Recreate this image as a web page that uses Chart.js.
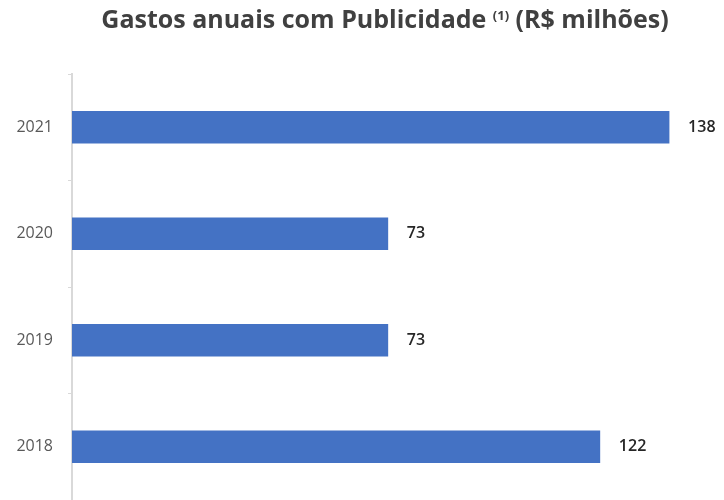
<!DOCTYPE html>
<html>
<head>
<meta charset="utf-8">
<script src="https://cdn.jsdelivr.net/npm/chart.js@4"></script>
<style>
  html, body { margin: 0; padding: 0; background: #fff; overflow: hidden; }
  canvas { display: block; }
</style>
</head>
<body>
<canvas id="chart" width="724" height="500"></canvas>
<script>
// Dados do gráfico
const anos = ["2021", "2020", "2019", "2018"];
const gastos = [138, 73, 73, 122];

const corBarra = "#4472c4";
const corEixo = "#d9d9d9";

// Título com o "(1)" sobrescrito
const tituloPlugin = {
  id: "titulo",
  afterDraw(chart) {
    const c = chart.ctx;
    const partes = [
      { t: "Gastos anuais com Publicidade ", f: "bold 25px 'Open Sans'", dy: 0 },
      { t: "(1)", f: "bold 13px 'Open Sans'", dy: -8 },
      { t: " (R$ milhões)", f: "bold 25px 'Open Sans'", dy: 0 },
    ];
    c.save();
    c.fillStyle = "#404040";
    c.textBaseline = "alphabetic";
    let total = 0;
    partes.forEach((p) => { c.font = p.f; total += c.measureText(p.t).width; });
    let x = 385 - total / 2;
    partes.forEach((p) => {
      c.font = p.f;
      c.fillText(p.t, x, 28 + p.dy);
      x += c.measureText(p.t).width;
    });
    c.restore();
  },
};

// Rótulos de valor à direita das barras
const valoresPlugin = {
  id: "valores",
  afterDatasetsDraw(chart) {
    const c = chart.ctx;
    const meta = chart.getDatasetMeta(0);
    c.save();
    c.font = "600 16px 'Open Sans'";
    c.fillStyle = "#262626";
    c.textBaseline = "middle";
    meta.data.forEach((bar, i) => {
      c.fillText(gastos[i], bar.x + 19, bar.y);
    });
    c.restore();
  },
};

const ctx = document.getElementById("chart").getContext("2d");
new Chart(ctx, {
  type: "bar",
  data: {
    labels: anos,
    datasets: [
      {
        data: gastos,
        backgroundColor: corBarra,
        borderWidth: 0,
        barThickness: 32,
      },
    ],
  },
  options: {
    indexAxis: "y",
    responsive: false,
    animation: false,
    layout: { padding: { top: 74, right: 3, bottom: 0, left: 0 } },
    plugins: {
      legend: { display: false },
      tooltip: { enabled: false },
    },
    scales: {
      x: { display: false, min: 0, max: 150 },
      y: {
        // eixo com largura fixa e sem folga extra embaixo
        afterFit: (axis) => {
          axis.width = 72;
          axis.paddingTop = 0;
          axis.paddingBottom = 0;
        },
        border: { color: corEixo, width: 2 },
        grid: {
          drawOnChartArea: false,
          color: corEixo,
          tickLength: 4,
          lineWidth: 1,
        },
        ticks: {
          color: "#595959",
          font: { family: "'Open Sans'", size: 16 },
          padding: 15,
        },
      },
    },
  },
  plugins: [tituloPlugin, valoresPlugin],
});
</script>
</body>
</html>
